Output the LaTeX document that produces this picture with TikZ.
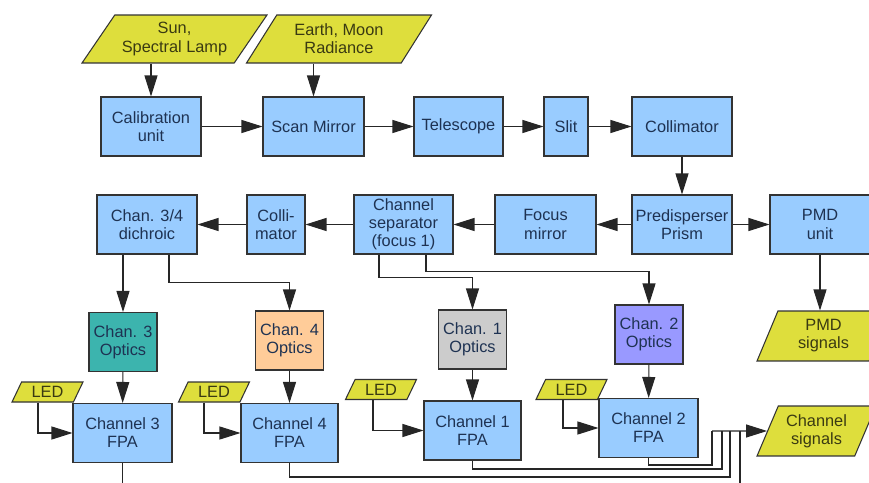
\documentclass[tikz,border=0pt]{standalone}
\usepackage{fontspec}
\setmainfont{Liberation Sans}
\usetikzlibrary{shapes.geometric, arrows.meta}
\definecolor{boxblue}{HTML}{99CCFF}
\definecolor{ioyellow}{HTML}{DEDE3C}
\definecolor{opteal}{HTML}{3CB4AE}
\definecolor{oporange}{HTML}{FFCC99}
\definecolor{opgray}{HTML}{CCCCCC}
\definecolor{oppurple}{HTML}{9999FF}
\definecolor{edgegray}{HTML}{333333}
\definecolor{txtblue}{HTML}{1E3252}
\definecolor{txtolive}{HTML}{3A3A12}
\tikzstyle{block} = [rectangle, draw=edgegray, line width=0.6pt, fill=boxblue, text=txtblue, align=center, inner sep=1pt, minimum width=2cm, minimum height=1.18cm, font=\fontsize{9.3}{10.3}\selectfont]
\tikzstyle{optics} = [block, minimum width=1.36cm]
\tikzstyle{io} = [trapezium, trapezium left angle=48, trapezium right angle=132, trapezium stretches body, draw=edgegray, line width=0.6pt, fill=ioyellow, text=txtolive, align=center, inner sep=1pt, minimum width=3.7cm, minimum height=0.96cm, font=\fontsize{9.3}{10.3}\selectfont]
\tikzstyle{sig} = [io, trapezium left angle=60, trapezium right angle=120, minimum width=2.5cm, minimum height=1cm]
\tikzstyle{led} = [io, trapezium left angle=57, trapezium right angle=123, minimum width=1.42cm, minimum height=0.4cm]
\tikzstyle{line} = [draw=black!85, line width=0.6pt]
\tikzstyle{arrow} = [line, -{Triangle[length=0.42cm, width=0.26cm]}]

\begin{document}
\begin{tikzpicture}[x=0.02cm, y=-0.02cm]
    \clip (0,0) rectangle (869,483);
    \fill [white] (0,0) rectangle (869,483);

    % sources
    \node [io] at (174.5,39) (sun) {Sun,\\Spectral Lamp};
    \node [io] at (339,39) (earth) {Earth, Moon\\Radiance};

    % front optics
    \node [block] at (151,126.5) (calib) {Calibration\\unit};
    \node [block, minimum width=2.02cm] at (313.5,126.5) (scan) {Scan Mirror};
    \node [block, minimum width=1.78cm] at (458.5,126.5) (tele) {Telescope};
    \node [block, minimum width=0.88cm] at (566,126.5) (slit) {Slit};
    \node [block] at (682,126.5) (coll) {Collimator};

    % second row
    \node [block] at (147,224.5) (dichroic) {Chan. 3/4\\dichroic};
    \node [block, minimum width=1.16cm] at (276,224.5) (colli) {Colli-\\mator};
    \node [block, minimum width=1.98cm] at (403.5,224.5) (chsep) {Channel\\separator\\(focus 1)};
    \node [block, minimum width=2.02cm] at (545.5,224.5) (focus) {Focus\\mirror};
    \node [block] at (682,224.5) (prism) {Predisperser\\Prism};
    \node [block] at (820,224.5) (pmd) {PMD\\unit};
    \node [sig, minimum width=2.66cm] at (823.5,336) (pmdsig) {PMD\\signals};

    % channel optics
    \node [optics, fill=opteal] at (123,342) (opt3) {Chan. 3\\Optics};
    \node [optics, fill=oporange] at (289.5,340.5) (opt4) {Chan. 4\\Optics};
    \node [optics, fill=opgray] at (472.5,339.5) (opt1) {Chan. 1\\Optics};
    \node [optics, fill=oppurple] at (649,334.5) (opt2) {Chan. 2\\Optics};

    % detectors
    \node [block, minimum width=1.98cm] at (122.5,433) (fpa3) {Channel 3\\FPA};
    \node [block, minimum width=1.94cm] at (289.5,433) (fpa4) {Channel 4\\FPA};
    \node [block, minimum width=1.94cm] at (472.5,430.5) (fpa1) {Channel 1\\FPA};
    \node [block, minimum width=1.98cm] at (648.5,428) (fpa2) {Channel 2\\FPA};
    \node [led] at (47.5,392) (led3) {LED};
    \node [led] at (214,392) (led4) {LED};
    \node [led] at (381,389.5) (led1) {LED};
    \node [led] at (571.5,389.5) (led2) {LED};
    \node [sig, minimum width=2.38cm] at (816.5,431) (chsig) {Channel\\signals};
    \coordinate (bus) at (712,431);

    \draw [arrow] (calib.north |- sun.south) -- (calib.north);
    \draw [arrow] (scan.north |- earth.south) -- (scan.north);
    \draw [arrow] (calib) -- (scan);
    \draw [arrow] (scan) -- (tele);
    \draw [arrow] (tele) -- (slit);
    \draw [arrow] (slit) -- (coll);
    \draw [arrow] (coll) -- (prism);
    \draw [arrow] (prism) -- (focus);
    \draw [arrow] (focus) -- (chsep);
    \draw [arrow] (chsep) -- (colli);
    \draw [arrow] (colli) -- (dichroic);
    \draw [arrow] (prism) -- (pmd);
    \draw [arrow] (pmd.south) -- (pmd.south |- pmdsig.north);
    \draw [arrow] (opt3.north |- dichroic.south) -- (opt3);
    \draw [arrow] ([xshift=0.44cm]dichroic.south) -- ++(0,28) -| (opt4);
    \draw [arrow] ([xshift=-0.49cm]chsep.south) -- ++(0,23) -| (opt1);
    \draw [arrow] ([xshift=0.45cm]chsep.south) -- ++(0,17) -| (opt2);
    \draw [arrow] (opt3) -- (fpa3);
    \draw [arrow] (opt4) -- (fpa4);
    \draw [arrow] (opt1) -- (fpa1);
    \draw [arrow] (opt2) -- (fpa2);
    \draw [arrow] ([xshift=-0.19cm]led3.south) |- (fpa3);
    \draw [arrow] ([xshift=-0.2cm]led4.south) |- (fpa4);
    \draw [arrow] ([xshift=-0.16cm]led1.south) |- (fpa1);
    \draw [arrow] ([xshift=-0.17cm]led2.south) |- (fpa2);

    % signal bundle
    \draw [line] (fpa2.south) |- (712,465) -- (bus);
    \draw [line] (fpa1.south) |- (722,469) -- (722,431);
    \draw [line] (fpa4.south) |- (730,477) -- (730,431);
    \draw [line] (fpa3.south) |- (740,495) -- (740,431);
    \draw [arrow] (bus) -- (chsig);
\end{tikzpicture}
\end{document}
